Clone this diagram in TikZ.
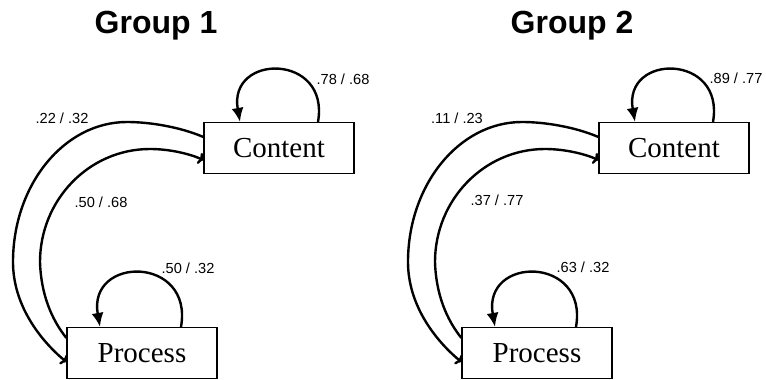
\documentclass[tikz,border=0pt]{standalone}
\usepackage{fontspec}
\setmainfont{Liberation Serif}
\newfontfamily\arialfont{Liberation Sans}
\usetikzlibrary{arrows.meta}

\tikzset{
  var/.style={draw, line width=0.6pt, minimum width=75pt, minimum height=25.5pt, inner sep=0pt, font=\fontsize{14.5}{16}\selectfont},
  coef/.style={inner sep=0pt, font=\arialfont\fontsize{7.3}{8}\selectfont},
  grouptitle/.style={font=\arialfont\bfseries\fontsize{16}{18}\selectfont},
  selfloop/.style={line width=1.2pt, -{Latex[length=7pt,width=6pt]}},
  effect/.style={line width=1.2pt, -{To[length=2.5pt,width=6pt]}}
}

\begin{document}
\begin{tikzpicture}[x=0.5pt, y=-0.5pt]
    \useasboundingbox (0,0) rectangle (766,380);

    \node[grouptitle] (t1) at (156,26) {Group 1};
    \node[grouptitle] (t2) at (572,26) {Group 2};

    % Group 1
    \node[var] (c1) at (279,148) {Content};
    \node[var] (p1) at (142,353) {Process};
    \draw[selfloop] ([xshift=19.5pt]c1.north) to[out=80, in=100, looseness=2.3] ([xshift=-19.5pt]c1.north);
    \draw[selfloop] ([xshift=19.5pt]p1.north) to[out=80, in=100, looseness=2.3] ([xshift=-21pt]p1.north);
    \draw[effect] ([yshift=5.5pt]c1.west) .. controls (180,127) and (150,122) .. (127,122)
        .. controls (64,122) and (13,185) .. (13,262)
        .. controls (13,305) and (40,340) .. ([yshift=-4.5pt]p1.west);
    \draw[effect] ([yshift=7.5pt]p1.west) .. controls (52,320) and (41,295) .. (40,262)
        .. controls (40,200) and (89,149) .. (150,149)
        .. controls (170,149) and (190,154) .. ([yshift=-6pt]c1.west);
    \node[coef] (a1) at (343,79) {.78 / .68};
    \node[coef] (b1) at (188,268) {.50 / .32};
    \node[coef] (d1) at (62,118) {.22 / .32};
    \node[coef] (e1) at (101,202) {.50 / .68};

    % Group 2
    \begin{scope}[shift={(395,0)}]
    \node[var] (c2) at (279,148) {Content};
    \node[var] (p2) at (142,353) {Process};
    \draw[selfloop] ([xshift=19.5pt]c2.north) to[out=80, in=100, looseness=2.3] ([xshift=-19.5pt]c2.north);
    \draw[selfloop] ([xshift=19.5pt]p2.north) to[out=80, in=100, looseness=2.3] ([xshift=-21pt]p2.north);
    \draw[effect] ([yshift=5.5pt]c2.west) .. controls (180,127) and (150,122) .. (127,122)
        .. controls (64,122) and (13,185) .. (13,262)
        .. controls (13,305) and (40,340) .. ([yshift=-4.5pt]p2.west);
    \draw[effect] ([yshift=7.5pt]p2.west) .. controls (52,320) and (41,295) .. (40,262)
        .. controls (40,200) and (89,149) .. (150,149)
        .. controls (170,149) and (190,154) .. ([yshift=-6pt]c2.west);
    \node[coef] (a2) at (341,78) {.89 / .77};
    \node[coef] (b2) at (188,267) {.63 / .32};
    \node[coef] (d2) at (62,118) {.11 / .23};
    \node[coef] (e2) at (102,200) {.37 / .77};
    \end{scope}
\end{tikzpicture}
\end{document}
